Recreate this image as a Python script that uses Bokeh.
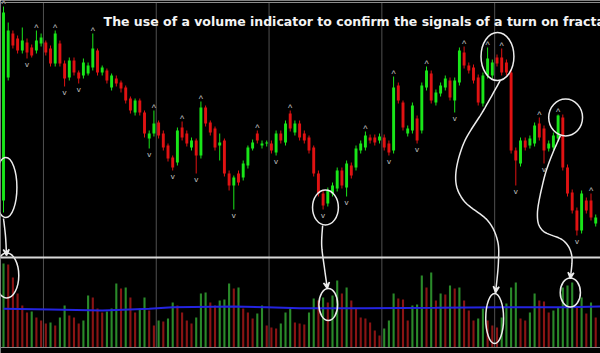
import numpy as np
from bokeh.plotting import figure
from bokeh.models import Range1d, Span, Label, Arrow, VeeHead
from bokeh.embed import file_html
from bokeh.resources import INLINE

# ---------------- data (arbitrary price units) ----------------
candle_open = [100, 223, 267, 262, 250, 258, 253, 250, 257, 258, 252, 237, 257, 237, 223, 240, 228, 225, 227, 233,
               250, 228, 230, 213, 222, 218, 213, 202, 188, 200, 188, 162, 167, 178, 167, 155, 143, 138, 173, 167,
               153, 160, 145, 193, 178, 172, 155, 160, 127, 115, 127, 123, 135, 152, 167, 155, 157, 157, 148, 167,
               158, 187, 168, 177, 167, 163, 153, 127, 107, 97, 107, 112, 130, 113, 135, 133, 150, 153, 163, 163,
               160, 163, 157, 150, 215, 198, 167, 170, 182, 170, 213, 227, 198, 207, 213, 220, 200, 218, 248, 235,
               233, 223, 197, 225, 225, 243, 243, 238, 228, 150, 137, 160, 155, 157, 177, 172, 152, 153, 162, 183,
               133, 108, 90, 70, 100, 100, 77]
candle_close = [288, 270, 255, 250, 260, 248, 245, 260, 263, 248, 237, 267, 237, 222, 240, 228, 222, 238, 235, 252,
                228, 233, 220, 225, 217, 212, 200, 190, 200, 188, 167, 167, 177, 165, 153, 142, 133, 170, 163, 157,
                160, 145, 193, 177, 168, 153, 158, 127, 115, 123, 118, 137, 153, 158, 160, 157, 158, 150, 167, 160,
                177, 172, 177, 163, 160, 150, 127, 107, 95, 110, 115, 130, 115, 137, 125, 152, 157, 165, 160, 158,
                164, 153, 148, 213, 200, 173, 172, 195, 160, 215, 230, 200, 208, 215, 222, 203, 220, 250, 235, 230,
                220, 198, 225, 242, 238, 237, 228, 228, 150, 140, 160, 153, 162, 175, 163, 150, 157, 165, 185, 133,
                107, 90, 70, 107, 90, 83, 83]
candle_high = [294, 278, 270, 265, 273, 262, 256, 270, 267, 260, 255, 270, 260, 240, 243, 243, 230, 242, 238, 267,
               252, 235, 232, 227, 225, 220, 215, 204, 202, 202, 190, 170, 190, 180, 170, 157, 145, 173, 179, 170,
               163, 162, 199, 195, 180, 174, 167, 162, 130, 125, 130, 140, 155, 161, 170, 160, 160, 160, 170, 170,
               180, 190, 180, 180, 170, 165, 155, 130, 110, 113, 118, 133, 133, 140, 138, 155, 160, 169, 166, 166,
               167, 166, 160, 224, 218, 200, 175, 198, 185, 218, 234, 230, 211, 218, 225, 223, 223, 253, 254, 238,
               236, 226, 228, 253, 241, 246, 252, 241, 231, 153, 163, 163, 165, 178, 183, 175, 160, 168, 186, 186,
               136, 111, 93, 110, 103, 107, 86]
candle_low = [88, 220, 252, 247, 247, 242, 243, 247, 254, 245, 234, 234, 234, 214, 220, 225, 217, 222, 225, 230,
              225, 225, 217, 210, 214, 208, 197, 187, 185, 185, 163, 152, 164, 162, 150, 139, 130, 135, 160, 154,
              150, 127, 142, 174, 165, 150, 140, 124, 110, 91, 115, 120, 132, 150, 157, 152, 154, 147, 145, 157,
              155, 169, 165, 160, 157, 147, 124, 104, 91, 94, 104, 109, 112, 104, 122, 130, 147, 150, 157, 155,
              157, 150, 145, 147, 197, 170, 164, 167, 157, 167, 210, 197, 195, 204, 210, 200, 188, 215, 232, 227,
              217, 195, 194, 222, 222, 234, 225, 225, 147, 115, 134, 150, 152, 154, 160, 137, 149, 150, 159, 130,
              104, 87, 65, 67, 87, 80, 74]
volume = [84, 83, 70, 54, 42, 35, 36, 30, 27, 24, 25, 22, 30, 42, 32, 30, 24, 27, 52, 50,
          39, 35, 36, 39, 64, 59, 60, 50, 35, 39, 50, 37, 22, 27, 26, 29, 45, 42, 35, 27,
          24, 30, 54, 55, 45, 42, 47, 48, 64, 59, 60, 39, 35, 29, 34, 42, 22, 20, 19, 24,
          35, 39, 25, 24, 23, 35, 49, 47, 50, 45, 52, 67, 54, 60, 47, 39, 30, 29, 25, 17,
          12, 19, 27, 54, 49, 48, 27, 42, 43, 72, 60, 75, 47, 54, 53, 62, 59, 60, 47, 37,
          27, 29, 39, 27, 22, 20, 30, 44, 60, 65, 29, 27, 35, 54, 47, 46, 35, 37, 40, 60,
          62, 65, 40, 50, 34, 45, 30]
volume_ma_bar = [0, 10, 21, 31, 36, 49, 56, 63, 77, 92, 106, 120, 127]
volume_ma = [38.7, 38.0, 37.0, 38.7, 40.3, 41.0, 40.3, 39.3, 39.3, 39.7, 40.3, 40.3, 41.0]
fractal_up_bars = [0, 7, 11, 19, 32, 38, 42, 54, 61, 77, 83, 90, 98, 103, 106, 114, 118, 125]
fractal_down_bars = [5, 13, 16, 31, 36, 41, 49, 58, 68, 73, 82, 88, 96, 109, 115, 122]
grid_bars = [8.5, 32.5, 56.5, 80.5, 104.5]
title_text = "The use of a volume indicator to confirm the signals of a turn on fractals"

# hand-drawn annotations, placed at (bar, price) / (bar, volume-level) spots
price_rings = dict(x=[0.5, 68.5, 105.1, 119.6], y=[113, 93, 244, 183],
                   w=[4.7, 5.5, 7.0, 7.2], h=[60, 35, 48, 37])
volume_rings = dict(x=[0.7, 69.1, 104.5, 120.6], y=[25, -4, -18, 8],
                    w=[5.1, 4.0, 3.8, 4.3], h=[45, 32, 50, 29])
pointer_paths = [
    ([0.0, 0.43, 0.64], [82, 64, 45]),
    ([67.9, 67.7, 68.3, 68.9], [75, 55, 32, 12]),
    ([105.7, 102.1, 97.9, 96.2, 97.9, 103.0, 105.1, 105.3, 104.7], [220, 190, 157, 123, 100, 80, 60, 38, 8]),
    ([118.5, 116.4, 114.9, 113.6, 114.7, 119.1, 120.9, 120.6], [165, 142, 120, 87, 70, 60, 45, 22]),
]

# ---------------- figure ----------------
n = len(candle_open)
bars = list(range(n))
UP, DOWN = "#19e619", "#e01212"
VUP, VDOWN = "#2a8a2a", "#8a1414"

p = figure(width=600, height=353, x_range=Range1d(-0.64, 127.02), y_range=Range1d(-53, 300),
           output_backend="svg", toolbar_location=None, min_border=0,
           background_fill_color="black", border_fill_color="black", outline_line_color=None)
p.axis.visible = False
p.grid.visible = False
p.extra_y_ranges = {"vol": Range1d(-6, 347)}

# frame lines
p.add_layout(Span(location=298, dimension="width", line_color="#8c8c8c", line_width=1))
p.add_layout(Span(location=43, dimension="width", line_color="#d9d9d9", line_width=2))
p.add_layout(Span(location=-47, dimension="width", line_color="#8c8c8c", line_width=1))
p.segment(x0=grid_bars, x1=grid_bars, y0=[-47] * len(grid_bars), y1=[298] * len(grid_bars),
          line_color="#a0a0a0", line_width=1, line_dash="1 1")

# volumes
vol_colors = [VUP if i == 0 or volume[i] > volume[i - 1] else VDOWN for i in bars]
p.vbar(x=bars, top=volume, bottom=0, width=0.45, fill_color=vol_colors, line_color=None, y_range_name="vol")
p.line(volume_ma_bar, volume_ma, line_color="#2424e0", line_width=2, y_range_name="vol")

# candles
colors = [UP if candle_close[i] >= candle_open[i] else DOWN for i in bars]
p.segment(x0=bars, x1=bars, y0=candle_low, y1=candle_high, line_color=colors, line_width=1)
p.vbar(x=bars, top=[max(o, c) for o, c in zip(candle_open, candle_close)],
       bottom=[min(o, c) for o, c in zip(candle_open, candle_close)],
       width=0.62, fill_color=colors, line_color=None)

# fractal markers
p.text(x=fractal_up_bars, y=[candle_high[i] for i in fractal_up_bars], text=["^"] * len(fractal_up_bars),
       text_align="center", text_baseline="bottom", text_font_size="9px", text_color="#c4c4c4", y_offset=2)
p.text(x=fractal_down_bars, y=[candle_low[i] for i in fractal_down_bars], text=["v"] * len(fractal_down_bars),
       text_align="center", text_baseline="top", text_font_size="8px", text_color="#c4c4c4", y_offset=1)

# annotations
RING = "#ececec"
for r in (price_rings, volume_rings):
    p.ellipse(x=r["x"], y=r["y"], width=r["w"], height=r["h"], fill_alpha=0,
              line_color=RING, line_width=1.5)


def smooth(xs, ys, steps=12, sx=4.7):
    pts = np.column_stack([np.asarray(xs, float) * sx, np.asarray(ys, float)])
    pts = np.vstack([pts[0], pts, pts[-1]])
    out = []
    for k in range(1, len(pts) - 2):
        p0, p1, p2, p3 = pts[k - 1:k + 3]
        for t in np.linspace(0, 1, steps, endpoint=False):
            t2, t3 = t * t, t * t * t
            out.append(0.5 * (2 * p1 + (-p0 + p2) * t + (2 * p0 - 5 * p1 + 4 * p2 - p3) * t2
                              + (-p0 + 3 * p1 - 3 * p2 + p3) * t3))
    out.append(pts[-2])
    out = np.array(out)
    return list(out[:, 0] / sx), list(out[:, 1])


xs_all, ys_all = [], []
for xs, ys in pointer_paths:
    sx_, sy_ = smooth(xs, ys)
    xs_all.append(sx_)
    ys_all.append(sy_)
    p.add_layout(Arrow(end=VeeHead(size=6, line_color=RING, line_width=1.5, fill_color=RING),
                       x_start=sx_[-3], y_start=sy_[-3], x_end=sx_[-1], y_end=sy_[-1],
                       line_color=RING, line_width=1.5))
p.multi_line(xs_all, ys_all, line_color=RING, line_width=1.5)

# title (runs off the right edge, as in the reference)
p.add_layout(Label(x=21.3, y=279, text=title_text, text_color="#f4f4f4", text_font="DejaVu Sans",
                   text_font_size="12.5px", text_font_style="bold", text_baseline="middle"))

open("out.html", "w").write(file_html(p, INLINE))
